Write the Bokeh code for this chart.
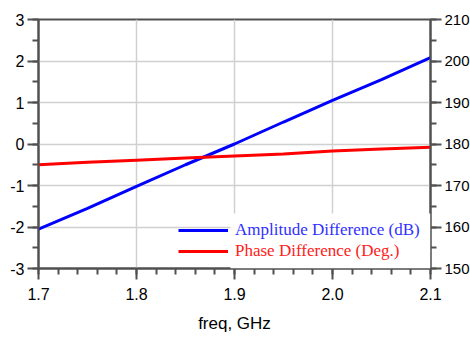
from bokeh.plotting import figure
from bokeh.models import (Range1d, LinearAxis, FixedTicker, Legend, LegendItem,
                          BoxAnnotation, NumeralTickFormatter)
from bokeh.embed import file_html
from bokeh.resources import INLINE

# ---- data ----
freq = [1.70, 1.75, 1.80, 1.85, 1.90, 1.95, 2.00, 2.05, 2.10]
amp_db = [-2.05, -1.55, -1.02, -0.50, 0.00, 0.53, 1.05, 1.55, 2.08]
phase_deg = [175.0, 175.6, 176.1, 176.6, 177.1, 177.6, 178.3, 178.8, 179.2]

x_ticks = [1.7, 1.8, 1.9, 2.0, 2.1]
x_minor = [1.70 + 0.02 * i for i in range(21)]
left_ticks = [-3, -2, -1, 0, 1, 2, 3]
left_minor = [-3 + 0.5 * i for i in range(13)]
right_ticks = [150, 160, 170, 180, 190, 200, 210]
right_minor = [150 + 5 * i for i in range(13)]

amp_label = "Amplitude Difference (dB)"
phase_label = "Phase Difference (Deg.)"
x_label = "freq, GHz"

AXIS_COL = "#505050"
GRID_COL = "#d0d0d0"
FONT = "Liberation Sans"

p = figure(frame_width=392, frame_height=249, output_backend="svg",
           toolbar_location=None, x_range=Range1d(1.7, 2.1),
           y_range=Range1d(-3, 3),
           min_border_left=38, min_border_top=19, min_border_right=40,
           min_border_bottom=80)
p.extra_y_ranges = {"phase": Range1d(150, 210)}

p.outline_line_color = AXIS_COL
p.outline_line_width = 2
p.background_fill_color = "white"
p.border_fill_color = "white"

p.xgrid.grid_line_color = GRID_COL
p.ygrid.grid_line_color = GRID_COL
p.xgrid.grid_line_width = 1.5
p.ygrid.grid_line_width = 1.5

r_amp = p.line(freq, amp_db, line_color="#0000ff", line_width=3)
r_ph = p.line(freq, phase_deg, line_color="#ff0000", line_width=3,
              y_range_name="phase")

right = LinearAxis(y_range_name="phase")
p.add_layout(right, "right")

def style(ax, ticks, minor, size):
    ax.ticker = FixedTicker(ticks=ticks, minor_ticks=minor)
    ax.axis_line_color = AXIS_COL
    ax.axis_line_width = 2
    ax.major_tick_line_color = AXIS_COL
    ax.major_tick_line_width = 2
    ax.minor_tick_line_color = AXIS_COL
    ax.minor_tick_line_width = 2
    ax.major_tick_in = 0
    ax.major_tick_out = 11
    ax.minor_tick_in = 0
    ax.minor_tick_out = 6
    ax.major_label_text_font = FONT
    ax.major_label_text_font_size = size
    ax.major_label_text_color = "black"
    ax.major_label_standoff = 3
    ax.major_label_overrides = {t: str(t) for t in ticks}

style(p.xaxis[0], x_ticks, x_minor, "16px")
style(p.yaxis[0], left_ticks, left_minor, "16px")
style(right, right_ticks, right_minor, "15px")
p.xaxis[0].formatter = NumeralTickFormatter(format="0.0")
p.xaxis[0].major_label_standoff = 8
p.xaxis[0].axis_label = x_label
p.xaxis[0].axis_label_text_font = FONT
p.xaxis[0].axis_label_text_font_size = "17px"
p.xaxis[0].axis_label_text_font_style = "normal"
p.xaxis[0].axis_label_text_color = "black"
p.xaxis[0].axis_label_standoff = 11

# white area behind the legend texts
box = BoxAnnotation(left=192, right=392, bottom=0, top=55,
                    left_units="screen", right_units="screen",
                    bottom_units="screen", top_units="screen",
                    fill_color="white", fill_alpha=1.0, line_alpha=0)
p.add_layout(box)

def make_legend(item_label, renderer, color, y):
    lg = Legend(items=[LegendItem(label=item_label, renderers=[renderer])],
                location=(140, y), padding=0, margin=0, glyph_width=50,
                glyph_height=20, label_standoff=7, background_fill_alpha=0,
                border_line_alpha=0, label_text_font="Liberation Serif",
                label_text_font_size="17px", label_text_color=color,
                label_height=20)
    p.add_layout(lg)

make_legend(amp_label, r_amp, "#3030ff", 28)
make_legend(phase_label, r_ph, "#ff2020", 7)

open("out.html", "w").write(file_html(p, INLINE))
